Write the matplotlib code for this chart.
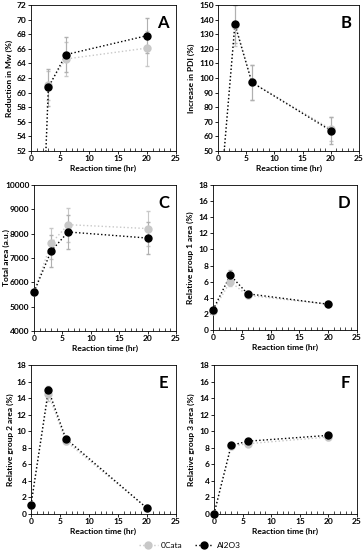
import numpy as np
import matplotlib
matplotlib.use("Agg")
import matplotlib.pyplot as plt
from matplotlib.ticker import MultipleLocator
from matplotlib.lines import Line2D

plt.rcParams['font.family'] = ['Lato', 'DejaVu Sans']

t = [0, 3, 6, 20]

# A - reduction in Mw
mw_cata = [0, 61.0, 64.6, 66.1]
mw_cata_err = [0, 2.0, 2.3, 2.4]
mw_al = [0, 60.7, 65.2, 67.8]
mw_al_err = [0, 2.5, 2.4, 2.4]

# B - increase in PDI
pdi_cata = [0, 136, 97, 65]
pdi_cata_err = [0, 14, 12, 8]
pdi_al = [0, 137, 97, 64]
pdi_al_err = [0, 13, 12, 9]

# C - total area
area_cata = [5600, 7600, 8370, 8210]
area_cata_err = [0, 630, 700, 710]
area_al = [5600, 7280, 8070, 7820]
area_al_err = [0, 650, 700, 670]

# D - group 1
g1_cata = [2.4, 6.0, 4.3, 3.2]
g1_cata_err = [0.1, 0.5, 0.3, 0.2]
g1_al = [2.5, 6.8, 4.5, 3.2]
g1_al_err = [0.1, 0.6, 0.3, 0.2]

# E - group 2
g2_cata = [1.1, 14.5, 8.8, 0.7]
g2_cata_err = [0.1, 0.8, 0.4, 0.1]
g2_al = [1.1, 15.0, 9.1, 0.7]
g2_al_err = [0.1, 0.5, 0.3, 0.1]

# F - group 3
g3_cata = [0, 8.2, 8.5, 9.3]
g3_cata_err = [0, 0.3, 0.3, 0.3]
g3_al = [0, 8.3, 8.8, 9.5]
g3_al_err = [0, 0.2, 0.2, 0.2]

panels = [
    ("A", "Reduction in Mw (%)", mw_cata, mw_cata_err, mw_al, mw_al_err, (52, 72), 2),
    ("B", "Increase in PDI (%)", pdi_cata, pdi_cata_err, pdi_al, pdi_al_err, (50, 150), 10),
    ("C", "Total area (a.u.)", area_cata, area_cata_err, area_al, area_al_err, (4000, 10000), 1000),
    ("D", "Relative group 1 area (%)", g1_cata, g1_cata_err, g1_al, g1_al_err, (0, 18), 2),
    ("E", "Relative group 2 area (%)", g2_cata, g2_cata_err, g2_al, g2_al_err, (0, 18), 2),
    ("F", "Relative group 3 area (%)", g3_cata, g3_cata_err, g3_al, g3_al_err, (0, 18), 2),
]

# axes positions in pixels (left, top, right, bottom) and y-label centre x
W, H = 363, 550
boxes = [(31, 5, 176, 151, 9), (218, 5, 359, 151, 191),
         (34, 185, 176, 331, 6), (213, 185, 357, 330, 190),
         (31, 365, 176, 514, 10), (214, 365, 357, 514, 191)]

fig = plt.figure(figsize=(3.63, 5.5), dpi=100)
gray = "#c8c8c8"


def series(ax, y, e, col, ecol):
    ax.errorbar(t, y, yerr=e, color=col, ls=":", lw=1, marker="none",
                ecolor=ecol, elinewidth=0.8, capsize=1.2)
    lo, hi = ax.get_ylim()
    pts = [(x, v) for x, v in zip(t, y) if lo <= v <= hi]
    ax.plot([p[0] for p in pts], [p[1] for p in pts], ls="none", marker="o",
            ms=5, color=col, clip_on=False, zorder=5)


for (letter, ylab, yc, ec, ya, ea, ylim, step), (l, tp, r, b, lx) in zip(panels, boxes):
    ax = fig.add_axes([l / W, 1 - b / H, (r - l) / W, (b - tp) / H])
    ax.set_xlim(0, 25)
    ax.set_ylim(*ylim)
    series(ax, yc, ec, gray, gray)
    series(ax, ya, ea, "black", "#b0b0b0")
    ax.xaxis.set_major_locator(MultipleLocator(5))
    ax.xaxis.set_minor_locator(MultipleLocator(1))
    ax.yaxis.set_major_locator(MultipleLocator(step))
    ax.tick_params(axis="both", which="major", labelsize=6, length=2, width=0.6, direction="out", pad=1.2)
    ax.tick_params(axis="x", which="minor", length=2, width=0.5, direction="in")
    for lab in ax.get_xticklabels() + ax.get_yticklabels():
        lab.set_fontweight("bold")
    for s in ax.spines.values():
        s.set_linewidth(0.6)
    ax.set_xlabel("Reaction time (hr)", fontsize=6, fontweight="bold", labelpad=2)
    ax.set_ylabel(ylab, fontsize=6, fontweight="bold", va="center")
    ax.yaxis.set_label_coords((lx - l) / (r - l), 0.5)
    ax.text(0.95, 0.93, letter, transform=ax.transAxes, ha="right", va="top",
            fontsize=12, fontweight="bold")

handles = [Line2D([], [], color=gray, ls=":", lw=1, marker="o", ms=5),
           Line2D([], [], color="black", ls=":", lw=1, marker="o", ms=5)]
fig.legend(handles, ["0Cata", "Al2O3"], loc="center", bbox_to_anchor=(190 / W, 1 - 545 / H), ncol=2,
           frameon=False, fontsize=6, handlelength=2.2, columnspacing=1.5, handletextpad=0.4)

fig.savefig("out.png", dpi=100)
